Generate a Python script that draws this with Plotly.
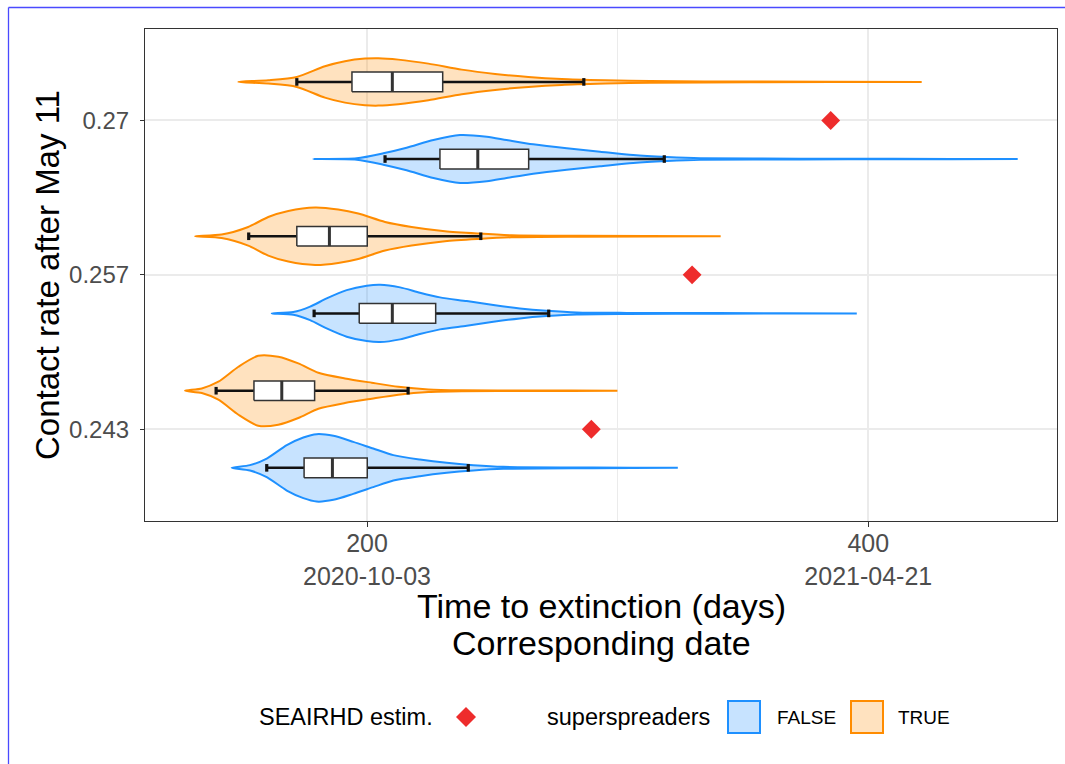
import plotly.graph_objects as go

# ---------------- data ----------------
contact_rates = [0.24333, 0.25667, 0.27]
rate_labels = ["0.243", "0.257", "0.27"]
groups = ["FALSE", "TRUE"]

# SEAIRHD estimate (days) per contact rate
seairhd_days = [289.5, 329.7, 385.0]

# boxplot statistics (days), ordered by contact rate
q1_false = [174.9, 196.9, 229.1]
med_false = [186.2, 210.1, 244.2]
q3_false = [200.1, 227.4, 264.5]
wlo_false = [160.0, 178.9, 207.2]
whi_false = [240.4, 272.5, 318.6]

q1_true = [154.9, 172.0, 194.0]
med_true = [166.0, 185.0, 210.1]
q3_true = [179.1, 200.1, 230.2]
wlo_true = [139.8, 152.8, 172.0]
whi_true = [216.4, 245.4, 286.5]

v_false_243_days = [146.0, 153.3, 160.0, 168.0, 174.6, 179.9, 186.6, 194.5, 202.5, 210.5, 221.1, 231.8, 242.4, 254.4, 290.0, 324.0]
v_false_243_dens = [0, 2.7, 9.3, 22.7, 30.3, 33.7, 32, 26, 19.3, 12.7, 8.3, 5, 2.7, 1, 0.35, 0]
v_false_257_days = [162.0, 170.6, 177.3, 183.9, 191.9, 199.9, 205.2, 213.2, 221.1, 229.1, 239.8, 250.4, 261.0, 271.7, 283.7, 303.6, 340.0, 395.4]
v_false_257_dens = [0, 1.3, 6.7, 15, 23.3, 27.7, 28.7, 26, 20.7, 16, 12.3, 8.3, 5, 2.7, 1, 0.5, 0.3, 0]
v_false_270_days = [178.6, 195.9, 206.5, 215.8, 226.5, 237.1, 247.8, 255.7, 266.3, 279.7, 293.0, 306.2, 319.6, 332.9, 372.8, 410.0, 459.6]
v_false_270_dens = [0, 0.7, 5.7, 11.3, 19, 24, 22.3, 19, 14.7, 10.7, 7.3, 4, 2, 0.7, 0.4, 0.25, 0]

v_true_243_days = [127.4, 134.1, 140.7, 148.7, 156.6, 164.6, 172.6, 180.6, 191.2, 201.9, 212.5, 224.5, 237.8, 265.0, 299.9]
v_true_243_dens = [0, 2.3, 9, 24, 35, 34, 27.3, 18, 12.3, 8, 4, 1.3, 0.5, 0.3, 0]
v_true_257_days = [131.4, 142.0, 152.6, 160.6, 168.6, 179.3, 188.5, 196.5, 207.2, 217.8, 231.1, 244.4, 257.7, 285.0, 341.1]
v_true_257_dens = [0, 1.7, 9.3, 19.3, 25.3, 28.7, 26.7, 22.7, 14.3, 9.3, 5, 2.7, 1, 0.4, 0]
v_true_270_days = [148.6, 160.6, 172.0, 183.2, 191.2, 199.2, 204.5, 212.5, 224.5, 237.8, 251.1, 264.4, 277.7, 295.0, 312.9, 352.8, 421.3]
v_true_270_dens = [0, 1.7, 5, 15.7, 20.7, 23.3, 23.7, 22.3, 18.3, 12.3, 8, 5, 3, 1.7, 0.8, 0.4, 0]

x_tick_days = [200, 400]
x_tick_dates = ["2020-10-03", "2021-04-21"]
x_minor_days = [300]

# ---------------- layout constants ----------------
W, H = 1065, 764
ML, MR, MT, MB = 145, 8, 29, 243
PW, PH = W - ML - MR, H - MT - MB
X_RANGE = [111.43, 475.28]
Y_RANGE = [0.23541, 0.27790]
PX_PER_Y = PH / (Y_RANGE[1] - Y_RANGE[0])
DODGE = 0.00333
DENS_SCALE = 1.0 / PX_PER_Y      # one density unit = one pixel of half-width
BOX_HALF = 9.85 / PX_PER_Y
CAP_HALF = 3.8 / PX_PER_Y

FONT = "Liberation Sans, Arial, Helvetica, sans-serif"
line_col = {"FALSE": "#1E90FF", "TRUE": "#FF8C00"}
fill_col = {"FALSE": "rgba(30,144,255,0.25)", "TRUE": "rgba(255,140,0,0.25)"}

violins = {
    "FALSE": [(v_false_243_days, v_false_243_dens), (v_false_257_days, v_false_257_dens), (v_false_270_days, v_false_270_dens)],
    "TRUE": [(v_true_243_days, v_true_243_dens), (v_true_257_days, v_true_257_dens), (v_true_270_days, v_true_270_dens)],
}
boxstats = {
    "FALSE": (q1_false, med_false, q3_false, wlo_false, whi_false),
    "TRUE": (q1_true, med_true, q3_true, wlo_true, whi_true),
}

fig = go.Figure()

for g in groups:
    q1s, meds, q3s, wlos, whis = boxstats[g]
    for i, rate in enumerate(contact_rates):
        c = rate + (DODGE if g == "TRUE" else -DODGE)
        days, dens = violins[g][i]
        xs = list(days) + list(days[::-1])
        ys = [c + d * DENS_SCALE for d in dens] + [c - d * DENS_SCALE for d in dens[::-1]]
        fig.add_trace(go.Scatter(
            x=xs, y=ys, mode="lines", fill="toself", fillcolor=fill_col[g],
            line=dict(color=line_col[g], width=2, shape="spline", smoothing=0.7),
            hoverinfo="skip", showlegend=False))
        # whiskers
        fig.add_trace(go.Scatter(
            x=[wlos[i], q1s[i], None, q3s[i], whis[i]], y=[c, c, None, c, c],
            mode="lines", line=dict(color="#111111", width=2.5),
            hoverinfo="skip", showlegend=False))
        # box
        fig.add_trace(go.Scatter(
            x=[q1s[i], q3s[i], q3s[i], q1s[i], q1s[i]],
            y=[c - BOX_HALF, c - BOX_HALF, c + BOX_HALF, c + BOX_HALF, c - BOX_HALF],
            mode="lines", fill="toself", fillcolor="white",
            line=dict(color="#333333", width=1.5), hoverinfo="skip", showlegend=False))
        # median
        fig.add_trace(go.Scatter(
            x=[meds[i], meds[i]], y=[c - BOX_HALF, c + BOX_HALF], mode="lines",
            line=dict(color="#333333", width=3), hoverinfo="skip", showlegend=False))
        # caps
        fig.add_trace(go.Scatter(
            x=[wlos[i], wlos[i], None, whis[i], whis[i]],
            y=[c - CAP_HALF, c + CAP_HALF, None, c - CAP_HALF, c + CAP_HALF],
            mode="lines", line=dict(color="#111111", width=3.2),
            hoverinfo="skip", showlegend=False))

fig.add_trace(go.Scatter(
    x=seairhd_days, y=contact_rates, mode="markers",
    marker=dict(symbol="diamond", size=14.5, color="#EE2C2C", line=dict(width=0)),
    name="SEAIRHD estim.", showlegend=False))


def px_x(px):
    return (px - ML) / PW


def px_y(py):
    return (H - MB - py) / PH


annotations = []
shapes = []

# axis titles
annotations.append(dict(text="Time to extinction (days)", x=px_x(601), y=px_y(606), xref="paper", yref="paper",
                        showarrow=False, xanchor="center", yanchor="middle", font=dict(size=34, color="black", family=FONT)))
annotations.append(dict(text="Corresponding date", x=px_x(601), y=px_y(643), xref="paper", yref="paper",
                        showarrow=False, xanchor="center", yanchor="middle", font=dict(size=34, color="black", family=FONT)))
annotations.append(dict(text="Contact rate after May 11", x=px_x(47), y=px_y(275), xref="paper", yref="paper",
                        showarrow=False, textangle=-90, xanchor="center", yanchor="middle",
                        font=dict(size=33, color="black", family=FONT)))

# legend
LEG_Y = 717
annotations.append(dict(text="SEAIRHD estim.", x=px_x(257), y=px_y(LEG_Y), xref="paper", yref="paper",
                        showarrow=False, xanchor="left", yanchor="middle", font=dict(size=23.5, color="black", family=FONT)))
dcx, dcy, dr = 466, LEG_Y, 10
shapes.append(dict(type="path", xref="paper", yref="paper",
                   path=f"M {px_x(dcx)},{px_y(dcy - dr)} L {px_x(dcx + dr)},{px_y(dcy)} L {px_x(dcx)},{px_y(dcy + dr)} L {px_x(dcx - dr)},{px_y(dcy)} Z",
                   fillcolor="#EE2C2C", line=dict(width=0)))
annotations.append(dict(text="superspreaders", x=px_x(545), y=px_y(LEG_Y), xref="paper", yref="paper",
                        showarrow=False, xanchor="left", yanchor="middle", font=dict(size=23.5, color="black", family=FONT)))
key_x = {"FALSE": 727, "TRUE": 850}
lab_x = {"FALSE": 775, "TRUE": 896}
for g in groups:
    shapes.append(dict(type="rect", xref="paper", yref="paper",
                       x0=px_x(key_x[g] + 1), x1=px_x(key_x[g] + 33), y0=px_y(LEG_Y - 16), y1=px_y(LEG_Y + 16),
                       fillcolor=fill_col[g], line=dict(color=line_col[g], width=2)))
    annotations.append(dict(text=g, x=px_x(lab_x[g]), y=px_y(LEG_Y), xref="paper", yref="paper",
                            showarrow=False, xanchor="left", yanchor="middle", font=dict(size=19, color="black", family=FONT)))

# thin blue frame of the original picture
shapes.append(dict(type="line", xref="paper", yref="paper", x0=px_x(8.5), x1=px_x(8.5), y0=px_y(7.5), y1=px_y(H + 5),
                   line=dict(color="#4A4AFF", width=1.3)))
shapes.append(dict(type="line", xref="paper", yref="paper", x0=px_x(8.5), x1=px_x(W + 5), y0=px_y(7.5), y1=px_y(7.5),
                   line=dict(color="#4A4AFF", width=1.3)))

fig.update_layout(
    width=W, height=H, autosize=False,
    margin=dict(l=ML, r=MR, t=MT, b=MB),
    paper_bgcolor="white", plot_bgcolor="white",
    font=dict(family=FONT),
    showlegend=False,
    annotations=annotations, shapes=shapes,
    xaxis=dict(
        range=X_RANGE, tickmode="array", tickvals=x_tick_days,
        ticktext=[f"{d}<br>{s}" for d, s in zip(x_tick_days, x_tick_dates)],
        ticks="outside", ticklen=5, tickwidth=1.2, tickcolor="#333333",
        tickfont=dict(size=25, color="#4D4D4D", family=FONT),
        ticklabelstandoff=-5,
        showgrid=True, gridcolor="#EBEBEB", gridwidth=1.6,
        minor=dict(tickvals=x_minor_days, showgrid=True, gridcolor="#EBEBEB", gridwidth=0.9, ticks=""),
        showline=True, mirror=True, linecolor="#333333", linewidth=1.2, zeroline=False,
    ),
    yaxis=dict(
        range=Y_RANGE, tickmode="array", tickvals=contact_rates, ticktext=rate_labels,
        ticks="outside", ticklen=4, tickwidth=1.2, tickcolor="#333333",
        tickfont=dict(size=24, color="#4D4D4D", family=FONT),
        ticklabelstandoff=6,
        showgrid=True, gridcolor="#EBEBEB", gridwidth=1.6,
        showline=True, mirror=True, linecolor="#333333", linewidth=1.2, zeroline=False,
    ),
)

fig.write_html("out.html")
